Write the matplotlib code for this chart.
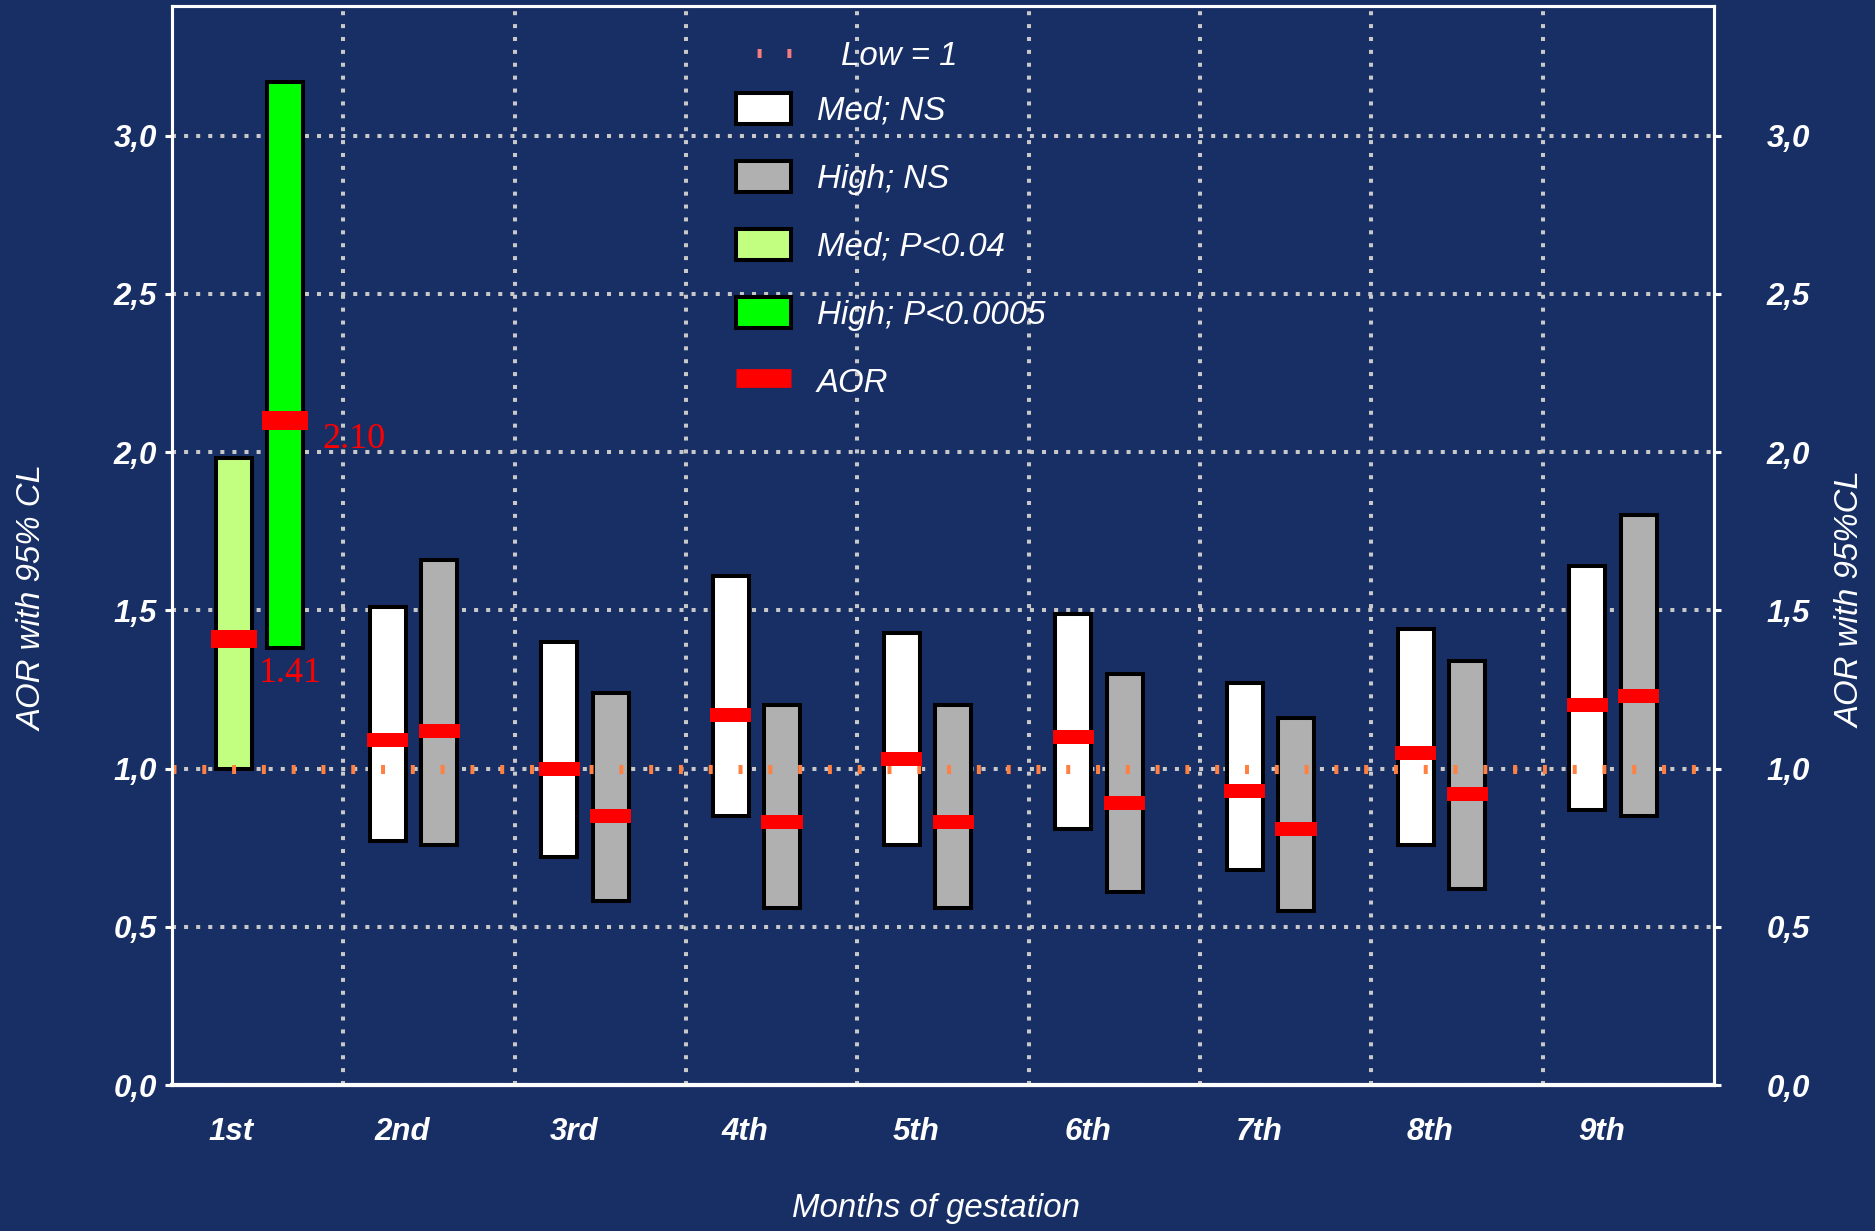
import matplotlib
matplotlib.use("Agg")
import matplotlib.pyplot as plt
from matplotlib import font_manager as fm
from matplotlib.lines import Line2D
from matplotlib.patches import Patch

# ---- data: adjusted odds ratios with 95% confidence limits by month ----
months = ["1st", "2nd", "3rd", "4th", "5th", "6th", "7th", "8th", "9th"]

med_lower = [1.00, 0.77, 0.72, 0.85, 0.76, 0.81, 0.68, 0.76, 0.87]
med_upper = [1.98, 1.51, 1.40, 1.61, 1.43, 1.49, 1.27, 1.44, 1.64]
med_aor = [1.41, 1.09, 1.00, 1.17, 1.03, 1.10, 0.93, 1.05, 1.20]

high_lower = [1.38, 0.76, 0.58, 0.56, 0.56, 0.61, 0.55, 0.62, 0.85]
high_upper = [3.17, 1.66, 1.24, 1.20, 1.20, 1.30, 1.16, 1.34, 1.80]
high_aor = [2.10, 1.12, 0.85, 0.83, 0.83, 0.89, 0.81, 0.92, 1.23]

med_significant = [True, False, False, False, False, False, False, False, False]
high_significant = [True, False, False, False, False, False, False, False, False]

reference_level = 1.0
ytick_values = [0.0, 0.5, 1.0, 1.5, 2.0, 2.5, 3.0]
ytick_labels = ["0,0", "0,5", "1,0", "1,5", "2,0", "2,5", "3,0"]

# ---- styling ----
BG = "#182F66"
GRID = "#C8C8C8"
C_MED_NS, C_HIGH_NS = "#FFFFFF", "#B0B0B0"
C_MED_SIG, C_HIGH_SIG = "#C2FF80", "#00FF00"
C_AOR = "#FF0000"
C_LOW = "#FF8040"

available = {f.name for f in fm.fontManager.ttflist}
if "Liberation Sans Narrow" in available:
    NARROW, NSCALE = "Liberation Sans Narrow", 1.0
else:
    NARROW, NSCALE = "Liberation Sans", 0.82

W, H, DPI = 1875, 1231, 100
fig = plt.figure(figsize=(W / DPI, H / DPI), dpi=DPI, facecolor=BG)
ax = fig.add_axes([172 / W, 1 - 1085 / H, (1714 - 172) / W, (1085 - 6) / H])
ax.set_facecolor(BG)
ax.set_xlim(0, 9)
ax.set_ylim(0, 3.41)

# per-group horizontal layout (first month sits a little further right)
group_shift = [0.10, 0, 0, 0, 0, 0, 0, 0, 0]
bar_w = 0.21
x_med = [i + 0.26 + s for i, s in enumerate(group_shift)]
x_high = [i + 0.56 + s for i, s in enumerate(group_shift)]

med_colors = [C_MED_SIG if s else C_MED_NS for s in med_significant]
high_colors = [C_HIGH_SIG if s else C_HIGH_NS for s in high_significant]

ax.bar(x_med, [u - l for u, l in zip(med_upper, med_lower)], bottom=med_lower,
       width=bar_w, color=med_colors, edgecolor="black", linewidth=2.9, zorder=2)
ax.bar(x_high, [u - l for u, l in zip(high_upper, high_lower)], bottom=high_lower,
       width=bar_w, color=high_colors, edgecolor="black", linewidth=2.9, zorder=2)

# AOR point estimates as red bands
mark_w = [0.268 if s else 0.24 for s in med_significant]
mark_h = [0.057 if s else 0.044 for s in med_significant]
ax.bar(x_med, mark_h, bottom=[a - h / 2 for a, h in zip(med_aor, mark_h)],
       width=mark_w, color=C_AOR, linewidth=0, zorder=4)
ax.bar(x_high, mark_h, bottom=[a - h / 2 for a, h in zip(high_aor, mark_h)],
       width=mark_w, color=C_AOR, linewidth=0, zorder=4)

# reference level (Low = 1)
ax.axhline(reference_level, color=C_LOW, lw=6.5, dashes=(0.44, 2.86),
           dash_capstyle="butt", zorder=3)

# value labels for the significant first month
serif = {"family": "Liberation Serif", "size": 26, "color": C_AOR}
ax.text(0.505, med_aor[0] - 0.137, f"{med_aor[0]:.2f}", ha="left", va="baseline",
        fontdict=serif, zorder=5)
ax.text(0.875, high_aor[0] - 0.087, f"{high_aor[0]:.2f}", ha="left", va="baseline",
        fontdict=serif, zorder=5)

# grid
ax.set_xticks(range(1, 9), minor=True)
ax.set_xticks([i + 0.345 for i in range(len(months))])
ax.set_xticklabels(months)
ax.set_yticks(ytick_values)
ax.set_yticklabels(ytick_labels)
ax.grid(True, which="minor", axis="x", color=GRID, lw=2.9, ls=(0, (1, 2.2)), zorder=0.5)
ax.grid(True, which="major", axis="y", color=GRID, lw=2.9, ls=(0, (1, 2.0)), zorder=0.5)
ax.set_axisbelow(True)

tick_font = {"family": "Liberation Sans", "weight": "bold", "style": "italic", "size": 22.5}
for lab in ax.get_xticklabels() + ax.get_yticklabels():
    lab.set_fontproperties(fm.FontProperties(**tick_font))
    lab.set_color("white")
ax.tick_params(axis="x", which="both", length=0, pad=23)
ax.tick_params(axis="y", which="major", direction="out", length=5, width=2.2,
               color="white", pad=6)

for side, sp in ax.spines.items():
    sp.set_color("white")
    sp.set_linewidth(3.0 if side == "bottom" else 2.2)
    sp.set_zorder(6)

# right-hand axis
ax2 = ax.twinx()
ax2.set_ylim(ax.get_ylim())
ax2.set_yticks(ytick_values)
ax2.set_yticklabels(ytick_labels)
for lab in ax2.get_yticklabels():
    lab.set_fontproperties(fm.FontProperties(**tick_font))
    lab.set_color("white")
ax2.tick_params(axis="y", direction="out", length=5, width=2.2, color="white", pad=33)
for sp in ax2.spines.values():
    sp.set_color("white")
    sp.set_linewidth(2.2)

# axis titles
lab_size = 29 * NSCALE
lab_font = {"family": NARROW, "style": "italic", "size": lab_size, "color": "white"}
fig.text(33 / W, 1 - 598 / H, "AOR with 95% CL", rotation=90, ha="center", va="center",
         fontdict=lab_font)
fig.text(1851 / W, 1 - 600 / H, "AOR with 95%CL", rotation=90, ha="center", va="center",
         fontdict=lab_font)
fig.text(936 / W, 1 - 1208 / H, "Months of gestation", ha="center", va="center",
         fontdict=lab_font)

# legends
fs = 29 * NSCALE
fs_px = fs * DPI / 72
leg_prop = fm.FontProperties(family=NARROW, style="italic", size=fs)

low_handle = Line2D([], [], color="#F47C7C", lw=6.5, ls=(0.63, (0.44, 2.86)),
                    dash_capstyle="butt")
leg_low = ax.legend([low_handle], ["Low = 1"], loc="upper left",
                    bbox_to_anchor=(733 / W, 1 - 41 / H), bbox_transform=fig.transFigure,
                    frameon=False, borderpad=0, borderaxespad=0,
                    handlelength=60 / fs_px, handletextpad=48 / fs_px,
                    prop=leg_prop, labelcolor="white")
leg_low.set_zorder(7)
ax.add_artist(leg_low)

handles = [
    Patch(facecolor=C_MED_NS, edgecolor="black", linewidth=2.9),
    Patch(facecolor=C_HIGH_NS, edgecolor="black", linewidth=2.9),
    Patch(facecolor=C_MED_SIG, edgecolor="black", linewidth=2.9),
    Patch(facecolor=C_HIGH_SIG, edgecolor="black", linewidth=2.9),
    Line2D([], [], color=C_AOR, lw=13.5, solid_capstyle="butt"),
]
labels = ["Med; NS", "High; NS", "Med; P<0.04", "High; P<0.0005", "AOR"]
leg = ax.legend(handles, labels, loc="upper left",
                bbox_to_anchor=(736 / W, 1 - 93 / H), bbox_transform=fig.transFigure,
                frameon=False, borderpad=0, borderaxespad=0,
                handlelength=55 / fs_px, handleheight=35 / fs_px,
                handletextpad=26 / fs_px,
                labelspacing=1.04,
                prop=leg_prop, labelcolor="white")
leg.set_zorder(7)

fig.savefig("out.png", dpi=DPI, facecolor=BG)
